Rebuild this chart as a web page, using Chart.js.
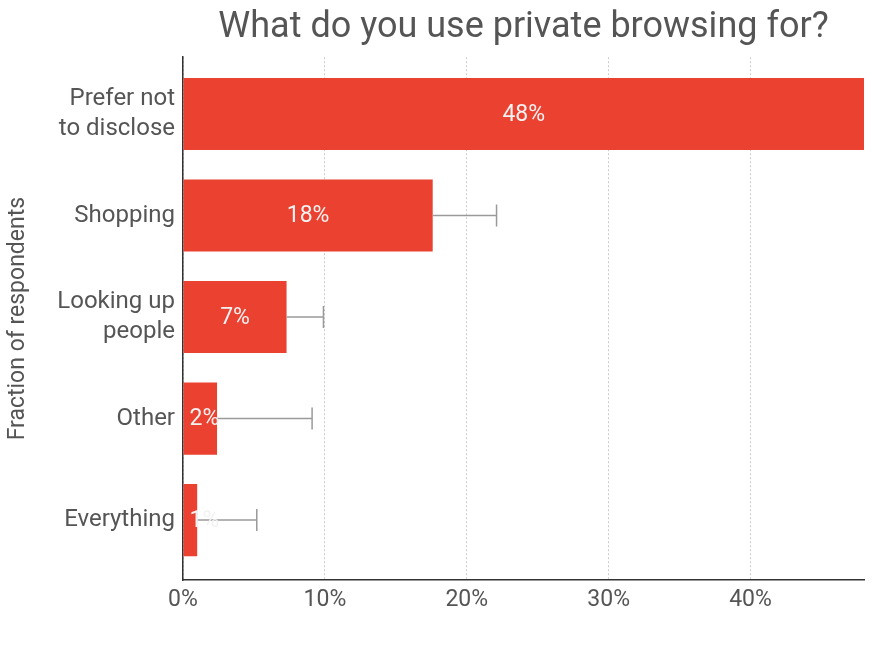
<!DOCTYPE html>
<html>
<head>
<meta charset="utf-8">
<script src="https://cdn.jsdelivr.net/npm/chart.js@4"></script>
<style>
  html, body { margin: 0; padding: 0; background: #fff; }
  #wrap { width: 896px; height: 672px; }
</style>
</head>
<body>
<div id="wrap"><canvas id="chart"></canvas></div>
<script>
// data
const categories = [["Prefer not", "to disclose"], "Shopping", ["Looking up", "people"], "Other", "Everything"];
const shares = [48, 17.6, 7.3, 2.4, 1.0];
const upperErr = [null, 22.1, 9.9, 9.1, 5.2];
const barLabels = ["48%", "18%", "7%", "2%", "1%"];
const xTicks = [0, 10, 20, 30, 40];

const textGrey = "#555555";

// error whiskers (bar end -> upper value) and labels in the bars
const overlayPlugin = {
  id: "overlay",
  afterDatasetsDraw: function(chart) {
    const ctx = chart.ctx;
    const xs = chart.scales.x;
    const meta = chart.getDatasetMeta(0);
    ctx.save();
    ctx.strokeStyle = "#9a9a9a";
    ctx.lineWidth = 1.5;
    meta.data.forEach(function(bar, i) {
      if (upperErr[i] == null) return;
      const x0 = xs.getPixelForValue(shares[i]);
      const x1 = xs.getPixelForValue(upperErr[i]);
      const y = bar.y;
      ctx.beginPath();
      ctx.moveTo(x0, y);
      ctx.lineTo(x1, y);
      ctx.moveTo(x1, y - 11);
      ctx.lineTo(x1, y + 11);
      ctx.stroke();
    });
    ctx.font = "23px Roboto";
    ctx.fillStyle = "#f2f2f2";
    ctx.textAlign = "center";
    ctx.textBaseline = "middle";
    meta.data.forEach(function(bar, i) {
      const w = ctx.measureText(barLabels[i]).width;
      // keep small labels off the axis line
      const xc = Math.max((bar.base + bar.x) / 2, bar.base + w / 2 + 6);
      ctx.fillText(barLabels[i], xc, bar.y + 1);
    });
    ctx.restore();
  }
};

new Chart(document.getElementById("chart"), {
  type: "bar",
  data: {
    datasets: [{
      data: shares.map(function(v, i) { return { x: v, y: i }; }),
      backgroundColor: "#ea4130",
      borderWidth: 0,
      barPercentage: 1,
      categoryPercentage: 0.71
    }]
  },
  options: {
    indexAxis: "y",
    responsive: true,
    maintainAspectRatio: false,
    animation: false,
    layout: { padding: { left: 0, right: 32, top: 0, bottom: 0 } },
    plugins: {
      legend: { display: false },
      tooltip: { enabled: false },
      title: {
        display: true,
        text: "What do you use private browsing for?",
        fullSize: false,
        color: textGrey,
        font: { family: "Roboto", size: 36, weight: "normal", lineHeight: 1.2 },
        padding: { top: 6, bottom: 8 }
      }
    },
    scales: {
      x: {
        type: "linear",
        min: 0,
        max: 48,
        afterBuildTicks: function(scale) {
          scale.ticks = xTicks.map(function(v) { return { value: v }; });
        },
        afterFit: function(scale) { scale.height = 92; },
        ticks: {
          color: textGrey,
          font: { family: "Roboto", size: 23 },
          padding: 6,
          callback: function(v) { return v + "%"; }
        },
        grid: {
          drawTicks: false,
          color: "#cccccc",
          lineWidth: 1
        },
        border: { display: true, color: "#333333", width: 1.5, dash: [2, 2] }
      },
      y: {
        type: "linear",
        reverse: true,
        offset: false,
        bounds: "data",
        min: -0.56,
        max: 4.59,
        afterBuildTicks: function(scale) {
          scale.ticks = categories.map(function(c, i) { return { value: i }; });
        },
        afterFit: function(scale) { scale.width = 183; },
        ticks: {
          color: textGrey,
          font: { family: "Roboto", size: 24, lineHeight: 1.25 },
          padding: 8,
          callback: function(v) { return categories[v]; }
        },
        grid: { display: false, drawTicks: false, offset: false },
        border: { display: true, color: "#333333", width: 1.5 },
        title: {
          display: true,
          text: "Fraction of respondents",
          color: textGrey,
          font: { family: "Roboto", size: 23 },
          padding: { top: 4, bottom: 0 }
        }
      }
    }
  },
  plugins: [overlayPlugin]
});
</script>
</body>
</html>
